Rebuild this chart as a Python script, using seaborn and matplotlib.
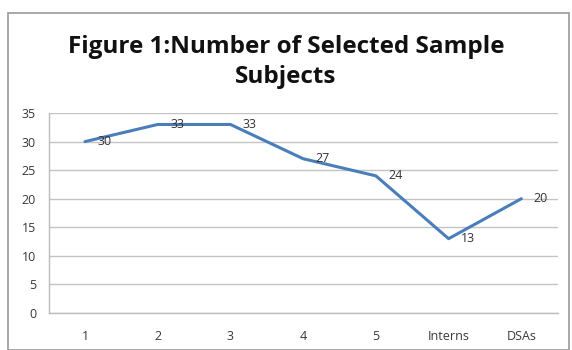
import matplotlib
matplotlib.use("Agg")
import matplotlib.pyplot as plt
import seaborn as sns
import pandas as pd
from matplotlib.patches import Rectangle

categories = ["1", "2", "3", "4", "5", "Interns", "DSAs"]
subjects = [30, 33, 33, 27, 24, 13, 20]
y_ticks = [0, 5, 10, 15, 20, 25, 30, 35]

df = pd.DataFrame({"group": categories, "subjects": subjects})

sns.set_theme(style="white")
plt.rcParams["font.family"] = ["Open Sans", "DejaVu Sans"]

fig = plt.figure(figsize=(5.72, 3.5), dpi=100)
ax = fig.add_axes([0.085, 0.106, 0.89, 0.571])

sns.lineplot(data=df, x="group", y="subjects", ax=ax, color="#4a7ebb",
             linewidth=2.2, sort=False)

# data labels to the right of each point
for i, v in enumerate(subjects):
    ax.annotate(str(v), (i, v), xytext=(9, 0), textcoords="offset points",
                ha="left", va="center", fontsize=9, color="#333333")

ax.set_xlim(-0.5, len(categories) - 0.5)
ax.set_ylim(0, 35)
ax.set_yticks(y_ticks)
ax.yaxis.grid(True, color="#c4c4c4", linewidth=1)
ax.set_axisbelow(True)
ax.set_xlabel("")
ax.set_ylabel("")
ax.tick_params(axis="both", labelsize=9, colors="#383838", length=0, pad=12)
ax.tick_params(axis="y", pad=9)
for s in ["top", "right"]:
    ax.spines[s].set_visible(False)
for s in ["left", "bottom"]:
    ax.spines[s].set_color("#bcbcbc")
    ax.spines[s].set_linewidth(1)

fig.text(0.50, 0.823, "Figure 1:Number of Selected Sample\nSubjects",
         ha="center", va="center", fontsize=17.5, fontweight="bold",
         color="#111111", linespacing=1.3)

# outer chart frame
fig.patches.append(Rectangle((8 / 572, 0.0), 561 / 572, 1 - 13 / 350,
                             transform=fig.transFigure, fill=False,
                             edgecolor="#9a9a9a", linewidth=1.2))

fig.savefig("out.png", dpi=100)
